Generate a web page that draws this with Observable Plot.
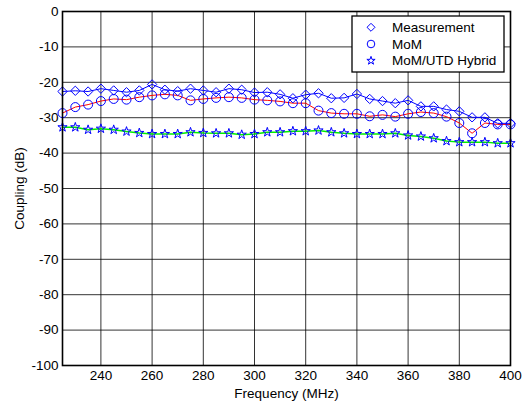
<!DOCTYPE html>
<html>
<head>
<meta charset="utf-8">
<script src="https://cdn.jsdelivr.net/npm/d3@7"></script>
<script src="https://cdn.jsdelivr.net/npm/@observablehq/plot@0.6"></script>
<style>
  html, body { margin: 0; padding: 0; background: #fff; }
  #chart { width: 523px; height: 404px; }
</style>
</head>
<body>
<div id="chart"></div>
<script>
const freq = [225,230,235,240,245,250,255,260,265,270,275,280,285,290,295,300,305,310,
              315,320,325,330,335,340,345,350,355,360,365,370,375,380,385,390,395,400];
const measurement = [-22.6,-22.4,-22.6,-21.8,-22.3,-22.8,-22.3,-20.6,-22.1,-22.5,-21.8,-22.3,-22.8,-21.8,-22.1,-22.9,-22.8,-23.4,
                     -24.5,-23.5,-23.1,-24.5,-24.4,-23.3,-24.7,-25.3,-25.9,-25.1,-26.8,-26.8,-27.7,-28.2,-29.9,-29.9,-31.6,-31.6];
const mom = [-28.7,-27.0,-26.3,-25.3,-24.7,-24.9,-24.2,-23.7,-23.4,-23.7,-25.1,-24.7,-24.4,-24.2,-24.4,-24.9,-25.1,-25.4,
             -25.9,-25.9,-28.0,-28.7,-28.9,-28.9,-29.6,-29.2,-29.7,-28.9,-28.4,-28.7,-29.7,-31.5,-34.4,-31.5,-31.9,-31.9];
const hybrid = [-32.7,-32.7,-33.4,-33.1,-33.4,-33.9,-34.3,-34.6,-34.6,-34.6,-34.1,-34.3,-34.4,-34.4,-34.8,-34.6,-34.1,-34.1,
                -33.8,-33.8,-33.6,-34.1,-34.4,-34.6,-34.6,-34.6,-34.4,-35.0,-35.3,-35.8,-36.6,-36.9,-36.9,-36.9,-37.2,-37.2];
const xTicks = [240,260,280,300,320,340,360,380,400];
const yTicks = [0,-10,-20,-30,-40,-50,-60,-70,-80,-90,-100];
const seriesNames = ["Measurement","MoM","MoM/UTD Hybrid"];

const rows = (vals) => freq.map((f, i) => ({f, v: vals[i]}));
const dMeas = rows(measurement), dMom = rows(mom), dHyb = rows(hybrid);

const R_DIAMOND = 4.2, R_CIRCLE = 4.5, R_STAR = 2.9;

const plot = Plot.plot({
  width: 523,
  height: 404,
  marginLeft: 62,
  marginRight: 13,
  marginTop: 11,
  marginBottom: 39,
  style: {fontFamily: "'Liberation Sans', Arial, sans-serif", fontSize: "13.5px", color: "#000", background: "#fff"},
  x: {domain: [225, 400], ticks: xTicks, tickSize: 0, tickPadding: 5, tickFormat: d => String(d), label: "Frequency (MHz)", labelAnchor: "center", labelArrow: "none", labelOffset: 32},
  y: {domain: [-100, 0], ticks: yTicks, tickSize: 0, tickPadding: 4, tickFormat: d => String(d), label: "Coupling (dB)", labelAnchor: "center", labelArrow: "none", labelOffset: 48},
  marks: [
    Plot.gridX(xTicks, {stroke: "#000", strokeOpacity: 0.8, strokeWidth: 1}),
    Plot.gridY(yTicks, {stroke: "#000", strokeOpacity: 0.8, strokeWidth: 1}),
    Plot.line(dMeas, {x: "f", y: "v", stroke: "#0000ff", strokeWidth: 1}),
    Plot.line(dMom, {x: "f", y: "v", stroke: "#ff0000", strokeWidth: 1}),
    Plot.line(dHyb, {x: "f", y: "v", stroke: "#00ee00", strokeWidth: 1.5}),
    Plot.dot(dMeas, {x: "f", y: "v", symbol: "diamond2", r: R_DIAMOND, stroke: "#0000ff", fill: "none", strokeWidth: 1}),
    Plot.dot(dMom, {x: "f", y: "v", symbol: "circle", r: R_CIRCLE, stroke: "#0000ff", fill: "none", strokeWidth: 1}),
    Plot.dot(dHyb, {x: "f", y: "v", symbol: "star", r: R_STAR, stroke: "#0000ff", fill: "none", strokeWidth: 1}),
    Plot.frame({stroke: "#000", strokeWidth: 1.6})
  ]
});

// Legend box inside plot (top-right)
const svg = d3.select(plot);
const lg = svg.append("g").attr("transform", "translate(352,16)").attr("text-anchor", "start");
lg.append("rect").attr("x", 0).attr("y", 0).attr("width", 152).attr("height", 56)
  .attr("fill", "#fff").attr("stroke", "#000").attr("stroke-width", 1.3);
const symbols = [d3.symbolDiamond2, d3.symbolCircle, d3.symbolStar];
const sizes = [3.6, 3.8, 2.6];
seriesNames.forEach((name, i) => {
  const cy = 11.3 + i * 16.7;
  lg.append("path")
    .attr("d", d3.symbol(symbols[i], Math.PI * sizes[i] * sizes[i])())
    .attr("transform", `translate(19,${cy})`)
    .attr("fill", "none").attr("stroke", "#0000ff").attr("stroke-width", 1);
  lg.append("text").attr("x", 40).attr("y", cy).attr("dy", "0.35em")
    .attr("font-size", 13.5).attr("fill", "#000").attr("text-anchor", "start").text(name);
});

document.getElementById("chart").appendChild(plot);
</script>
</body>
</html>
